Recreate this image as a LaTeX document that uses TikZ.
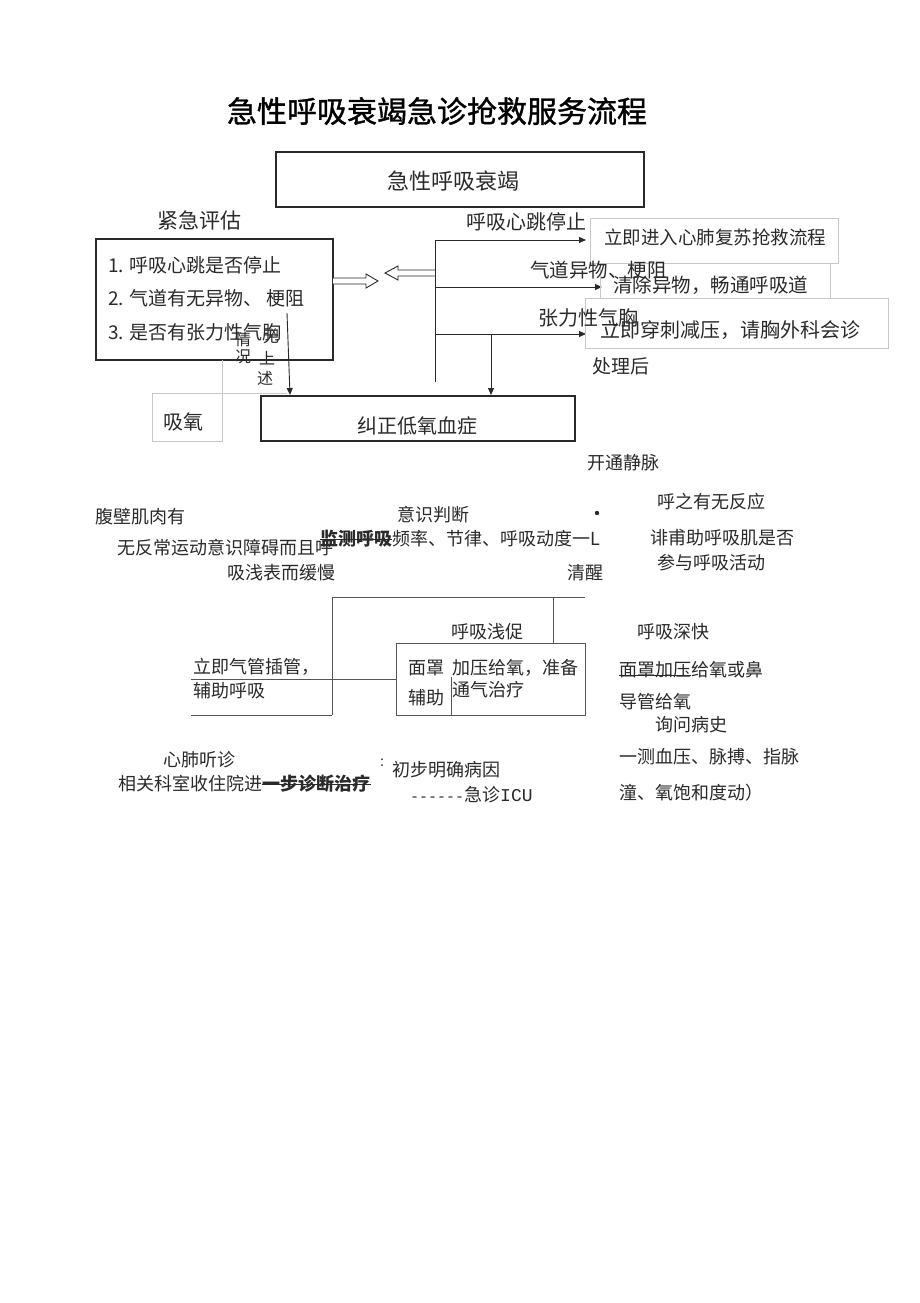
\documentclass[tikz,border=0pt]{standalone}
\usepackage{fontspec}
\setmainfont{Noto Sans CJK SC}
\newfontfamily\monof{Liberation Mono}
\newfontfamily\titlef[FakeBold=1.2]{Noto Sans CJK SC}
\usetikzlibrary{arrows.meta}
\definecolor{ink}{HTML}{2A2A2A}
\definecolor{lite}{HTML}{C8C8C8}
\begin{document}
\begin{tikzpicture}[x=1pt,y=-1pt,
  t/.style={anchor=west,inner sep=0pt,text=ink,font=\fontsize{#1}{#1}\selectfont},
  t/.default=18,
  c/.style={anchor=center,inner sep=0pt,text=ink,font=\fontsize{#1}{#1}\selectfont},
  c/.default=18,
  frame/.style={draw=ink,line width=1.1pt},
  liteframe/.style={draw=lite,line width=0.7pt},
  ln/.style={draw=ink,line width=0.9pt},
  thin/.style={draw=ink!80,line width=0.7pt},
  arr/.style={ln,-{Triangle[length=7pt,width=6pt]}},
  hollow/.style={draw=ink,line width=0.9pt,fill=white,line join=miter}
]
\useasboundingbox (0,0) rectangle (920,1303);
\fill[white] (0,0) rectangle (920,1303);

% title
\node[c=30,text=black,font=\fontsize{30}{30}\titlef] (title) at (437,111) {急性呼吸衰竭急诊抢救服务流程};

% top box
\draw[frame] (276,152) rectangle (644,207);
\draw[ink,line width=2pt] (644,152) -- (644,207);
\node[c=22] (topt) at (453,181) {急性呼吸衰竭};

% assessment
\node[t=21] (assess) at (157,220) {紧急评估};
\draw[frame,line width=1.5pt] (96,239) rectangle (333,360);
\node[t=19] (l1) at (108,265) {1. 呼吸心跳是否停止};
\node[t=19] (l2) at (108,298) {2. 气道有无异物、 梗阻};
\node[t=19] (l3) at (108,332) {3. 是否有张力性气胸};

% hollow arrows
\draw[hollow] (333,278) -- (366,278) -- (366,274) -- (378,281) -- (366,288) -- (366,284) -- (333,284);
\draw[hollow] (435,270) -- (398,270) -- (398,266) -- (385,273) -- (398,280) -- (398,276) -- (435,276);

% trunk
\coordinate (tr0) at (435,240);
\coordinate (tr1) at (435,287);
\coordinate (tr2) at (435,334);
\coordinate (trE) at (435,382);
\draw[ln] (tr0) -- (trE);
\coordinate (e0) at (586,240);
\coordinate (e1) at (602,287);
\coordinate (e2) at (586,334);
\draw[arr] (tr0) -- (e0);
\draw[arr] (tr1) -- (e1);
\draw[arr] (tr2) -- (e2);

% right boxes
\draw[liteframe] (590,218) rectangle (838,263);
\draw[liteframe] (600,263) rectangle (830,298);
\draw[liteframe] (585,298) rectangle (888,348);
\node[t=20] (lab0) at (466,222) {呼吸心跳停止};
\node[t=18.5] (r0) at (604,237) {立即进入心肺复苏抢救流程};
\node[t=19.5] (r1) at (613,285) {清除异物，畅通呼吸道};
\node[t=19.5] (lab1) at (530,270) {气道异物、梗阻};
\node[t=20] (r2) at (600,330) {立即穿刺减压，请胸外科会诊};
\node[t=20] (lab2) at (538,318) {张力性气胸};
\node[t=19] (after) at (592,366) {处理后};

% correct hypoxemia
\draw[frame] (261,396) rectangle (575,441);
\node[c=20] (fix) at (417,426) {纠正低氧血症};
\coordinate (d2a) at (491,334);
\coordinate (d2b) at (491,395);
\draw[arr] (d2a) -- (d2b);
\coordinate (d1a) at (287,313);
\coordinate (d1b) at (290,395);
\draw[arr] (d1a) -- (d1b);

% oxygen (light)
\draw[liteframe] (152,393) rectangle (222,441);
\draw[liteframe] (222,360) -- (222,393) -- (287,393);
\node[t=20] (oxy) at (163,422) {吸氧};
\node[c=16] (w1) at (243,339) {情};
\node[c=16] (w2) at (271,337) {无};
\node[c=16] (w3) at (243,357) {况};
\node[c=16] (w4) at (267,358) {上};
\node[c=16] (w5) at (265,378) {述};

% lower texts
\node[t] (iv) at (587,463) {开通静脉};
\node[t] (resp) at (657,502) {呼之有无反应};
\node[t] (abd) at (95,517) {腹壁肌肉有};
\node[t] (con) at (397,515) {意识判断};
\fill[ink] (597,513) circle (2.2pt);
\node[t,font=\fontsize{18}{18}\selectfont\bfseries] (mon) at (320,539) {监测呼吸};
\draw[ink,line width=1pt] (mon.west) -- (mon.east);
\node[t,anchor=west] (mon2) at (mon.east) {频率、节律、呼吸动度一L};
\node[t] (acc) at (650,538) {诽甫助呼吸肌是否};
\node[t] (noab) at (117,548) {无反常运动意识障碍而且呼};
\node[t] (slow) at (227,573) {吸浅表而缓慢};
\node[t] (awake) at (567,573) {清醒};
\node[t] (part) at (657,563) {参与呼吸活动};

% lower table lines
\coordinate (a1) at (332,597);
\coordinate (a2) at (585,597);
\coordinate (a3) at (332,715);
\draw[thin] (a3) -- (a1) -- (a2);
\coordinate (b1) at (553,597);
\coordinate (b2) at (553,643);
\draw[thin] (b1) -- (b2);
\draw[thin] (396,643) rectangle (585,715);
\coordinate (v1) at (451,677);
\coordinate (v2) at (451,715);
\draw[thin] (v1) -- (v2);
\coordinate (h1) at (191,679);
\coordinate (h2) at (396,679);
\draw[thin] (h1) -- (h2);
\coordinate (g1) at (191,715);
\draw[thin] (g1) -- (a3);

\node[t] (shallow) at (451,632) {呼吸浅促};
\node[t] (deep) at (637,632) {呼吸深快};
\node[t] (intub) at (193,667) {立即气管插管，};
\node[t] (assist) at (193,691) {辅助呼吸};
\node[t] (mask) at (408,668) {面罩};
\node[t] (press) at (452,668) {加压给氧，准备};
\node[t] (aid) at (408,698) {辅助};
\node[t] (vent) at (452,690) {通气治疗};
\node[t] (mp) at (619,670) {面罩加压};
\draw[ink,line width=0.8pt] ([yshift=3pt]mp.south west) -- ([yshift=3pt]mp.south east);
\node[t,anchor=west] (mp2) at (mp.east) {给氧或鼻};
\node[t] (cath) at (619,702) {导管给氧};
\node[t] (hist) at (655,725) {询问病史};
\node[t] (bp) at (619,757) {一测血压、脉搏、指脉};
\node[t] (sat) at (619,793) {潼、氧饱和度动）};
\node[t] (ausc) at (163,760) {心肺听诊};
\node[t] (adm) at (118,784) {相关科室收住院进};
\node[t,anchor=west,font=\fontsize{18}{18}\selectfont\bfseries] (adm2) at (adm.east) {一步诊断治疗};
\draw[ink,line width=1pt] (adm2.west) -- (adm2.east);
\node[c=12] (colon) at (385,763) {：};
\node[t] (cause) at (392,770) {初步明确病因};
\node[t] (icu) at (410,795) {{\monof\fontsize{15}{15}\selectfont ------}急诊{\monof ICU}};
\end{tikzpicture}
\end{document}
